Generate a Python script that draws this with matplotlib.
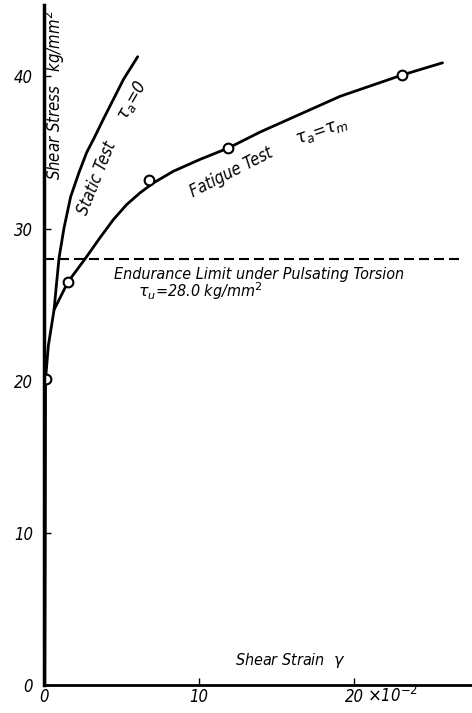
import numpy as np
import matplotlib
matplotlib.use("Agg")
import matplotlib.pyplot as plt

plt.rcParams['font.family'] = ['DejaVu Sans']
plt.rcParams['mathtext.fontset'] = 'dejavusans'

# (strain in 10^-2, stress in kg/mm^2)
static_x = [0.65, 0.8, 0.97, 1.29, 1.72, 2.26, 2.75, 3.23, 3.83, 5.12, 6.04]
static_y = [24.67, 26.3, 28.07, 30.04, 32.1, 33.7, 35.0, 35.95, 37.2, 39.8, 41.3]

fatigue_x = [0.05, 0.08, 0.1, 0.28, 0.65, 1.55, 2.69, 3.61, 4.47, 5.33, 6.19,
             7.05, 8.34, 10.06, 11.89, 13.94, 19.1, 23.1, 25.7]
fatigue_y = [0.0, 10.0, 20.1, 22.3, 24.67, 26.5, 28.07, 29.4, 30.59, 31.58, 32.35,
             33.0, 33.77, 34.55, 35.3, 36.35, 38.7, 40.1, 40.9]

test_x = [0.1, 1.55, 6.8, 11.89, 23.1]
test_y = [20.1, 26.5, 33.2, 35.3, 40.1]

endurance_x = [0, 26.8]
endurance_y = [28.0, 28.0]

yticks = [0, 10, 20, 30, 40]
xticks = [0, 10, 20]

txt = dict(style='italic', stretch='condensed', color='black')

fig = plt.figure(figsize=(4.72, 7.13), dpi=100)
ax = fig.add_axes([44/472, 28/713, 428/472, 680/713])

ax.plot(static_x, static_y, color='black', lw=2.0,
        solid_capstyle='round', solid_joinstyle='round')
ax.plot(fatigue_x, fatigue_y, color='black', lw=2.0,
        solid_capstyle='round', solid_joinstyle='round')
ax.plot(test_x, test_y, 'o', ms=7, mfc='white', mec='black', mew=1.5)
ax.plot(endurance_x, endurance_y, color='black', lw=1.5, dashes=(4.8, 2.4))

ax.set_xlim(0, 27.6)
ax.set_ylim(0, 44.7)
ax.spines['top'].set_visible(False)
ax.spines['right'].set_visible(False)
ax.spines['left'].set_linewidth(2.5)
ax.spines['bottom'].set_linewidth(2.0)

ax.set_yticks(yticks)
ax.set_yticklabels([str(v) for v in yticks], fontsize=12, **txt)
ax.set_xticks(xticks)
ax.set_xticklabels([str(v) for v in xticks], fontsize=12, **txt)
ax.tick_params(axis='y', direction='in', length=5, width=1, pad=8)
ax.tick_params(axis='x', direction='in', length=5, width=1, pad=2)

ax.text(0.71, 38.75, 'Shear Stress   kg/mm$^2$', rotation=90, fontsize=12,
        ha='center', va='center', **txt)
ax.text(3.4, 33.3, 'Static Test', rotation=68, fontsize=12,
        ha='center', va='center', **txt)
ax.text(5.68, 38.4, r'$\tau_a$=0', rotation=60, fontsize=12.5,
        ha='center', va='center', **txt)
ax.text(12.1, 33.7, 'Fatigue Test', rotation=27, fontsize=12,
        ha='center', va='center', **txt)
ax.text(17.9, 36.4, r'$\tau_a$=$\tau_m$', rotation=19, fontsize=12.5,
        ha='center', va='center', **txt)
ax.text(13.9, 27.0, 'Endurance Limit under Pulsating Torsion', fontsize=11.5,
        ha='center', va='center', **txt)
ax.text(10.1, 25.9, r'$\tau_u$=28.0 kg/mm$^2$', fontsize=11.5,
        ha='center', va='center', **txt)
ax.text(15.9, 1.64, r'Shear Strain  $\gamma$', fontsize=11.5,
        ha='center', va='center', **txt)
ax.text(22.5, -0.75, r'$\times$10$^{-2}$', fontsize=12,
        ha='center', va='center', clip_on=False, **txt)

fig.savefig('out.png', dpi=100)
